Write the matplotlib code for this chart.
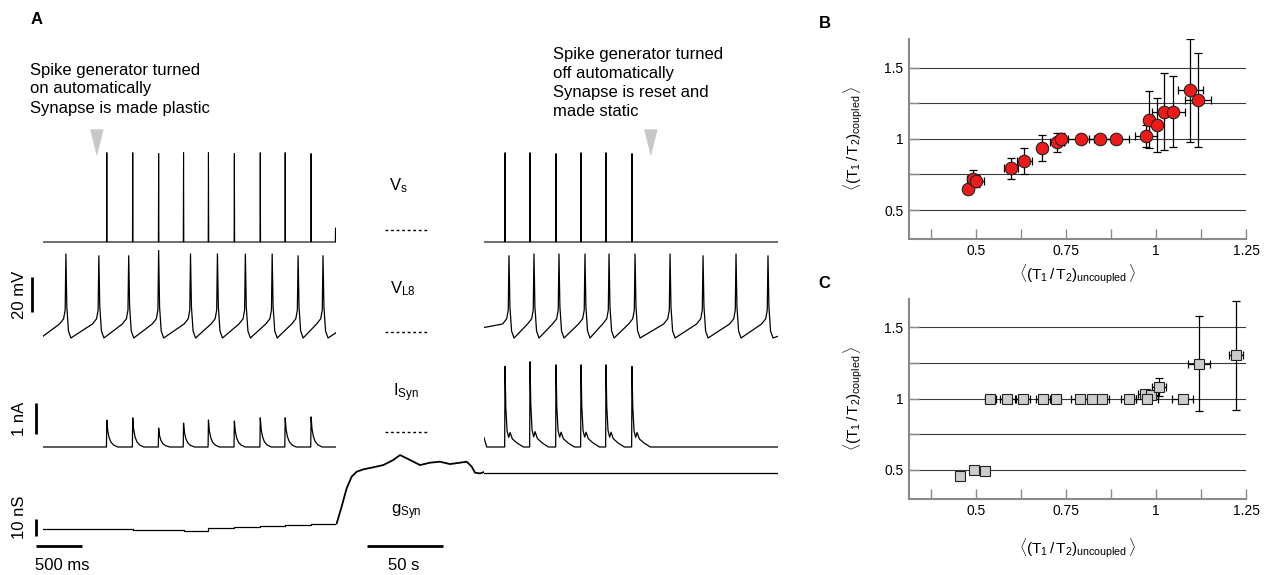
import numpy as np
import matplotlib
matplotlib.use("Agg")
import matplotlib.pyplot as plt
from matplotlib.lines import Line2D

plt.rcParams['font.family'] = ['Liberation Sans', 'DejaVu Sans']
plt.rcParams['mathtext.fontset'] = 'custom'
plt.rcParams['mathtext.rm'] = 'Liberation Sans'
plt.rcParams['mathtext.it'] = 'Liberation Sans'
plt.rcParams['mathtext.bf'] = 'Liberation Sans:bold'

# ---- panel A data (times in ms inside each 3.2 s window) ----
vs_spikes_on = [697, 980, 1263, 1535, 1807, 2090, 2373, 2645, 2928, 3195]
vs_peaks_on = [-14, -14, -14.5, -14, -14, -14.5, -14, -14, -14.5, -57]
vs_spikes_off = [229, 501, 784, 1056, 1328, 1611]
vs_peaks_off = [-14, -14, -14.5, -14, -14, -14.5]

vl8_spikes_on = [250, 610, 936, 1263, 1611, 1905, 2210, 2503, 2786, 3058]
vl8_peaks_on = [-14, -15, -15, -12, -14, -14, -14, -14, -15, -15]
vl8_spikes_off = [272, 544, 816, 1099, 1361, 1644, 2025, 2384, 2743, 3091]
vl8_peaks_off = [-15, -14, -14, -14, -14, -14, -14, -15, -14, -15]

isyn_peaks_on = [0.87, 0.94, 0.61, 0.77, 0.87, 0.84, 0.94, 0.94, 0.97]   # nA
isyn_peaks_off = [2.6, 2.75, 2.65, 2.65, 2.65, 2.6]

gsyn_steps_on = [8.0, 7.9, 7.6, 7.2, 7.0, 8.3, 9.0, 9.8, 10.4, 11.2]     # nS
gsyn_slow_t = [0, 0.4, 3.7, 7.0, 10.3, 13.6, 18.0, 24.6, 31.1, 37.7, 42.1, 46.5,
               50.9, 55.3, 61.8, 68.4, 75.0, 81.6, 86.0, 89.3, 91.5, 94.8, 97.4]  # s
gsyn_slow = [11.2, 11.2, 21.1, 31.9, 38.8, 41.7, 43.1, 44.3, 45.6, 48.6, 51.5, 49.6,
             47.6, 45.6, 47.0, 47.6, 46.2, 47.0, 47.6, 44.7, 41.1, 40.7, 41.5]
gsyn_off = 41.0

# ---- panel B / C data ----
b_x = [0.478, 0.492, 0.502, 0.598, 0.635, 0.683, 0.725, 0.737, 0.792, 0.845, 0.889,
       0.973, 0.980, 1.003, 1.023, 1.047, 1.096, 1.117]
b_y = [0.65, 0.72, 0.705, 0.793, 0.845, 0.935, 0.975, 1.0, 1.0, 1.0, 1.0,
       1.02, 1.135, 1.10, 1.19, 1.19, 1.34, 1.275]
b_xerr = [0.01, 0.015, 0.02, 0.02, 0.02, 0.01, 0.02, 0.01, 0.035, 0.03, 0.035,
          0.03, 0.01, 0.01, 0.035, 0.035, 0.035, 0.035]
b_yerr = [0.015, 0.06, 0.04, 0.075, 0.09, 0.09, 0.065, 0.04, 0.01, 0.01, 0.01,
          0.08, 0.2, 0.19, 0.27, 0.25, 0.36, 0.33]

c_x = [0.457, 0.496, 0.526, 0.541, 0.588, 0.631, 0.686, 0.723, 0.79, 0.823, 0.851,
       0.924, 0.971, 0.987, 1.008, 0.975, 1.074, 1.12, 1.223]
c_y = [0.458, 0.498, 0.495, 1.0, 1.0, 1.0, 1.0, 1.0, 1.0, 1.0, 1.0,
       1.0, 1.03, 1.023, 1.082, 1.0, 1.0, 1.246, 1.303]
c_xerr = [0.0, 0.01, 0.01, 0.015, 0.02, 0.02, 0.02, 0.015, 0.025, 0.015, 0.02,
          0.02, 0.02, 0.02, 0.02, 0.03, 0.03, 0.03, 0.02]
c_yerr = [0.0, 0.0, 0.0, 0.0, 0.0, 0.0, 0.0, 0.0, 0.0, 0.0, 0.0,
          0.0, 0.03, 0.02, 0.06, 0.0, 0.0, 0.33, 0.38]

W, H = 1266, 575
fig = plt.figure(figsize=(W / 100, H / 100), dpi=100)


def px_axes(x0, x1, ytop, ybot, off=True):
    ax = fig.add_axes([x0 / W, 1 - ybot / H, (x1 - x0) / W, (ybot - ytop) / H])
    if off:
        ax.set_axis_off()
    return ax


def scale_y(ax, ytop, ybot, ref_px, ref_val, ppu):
    ax.set_ylim(ref_val - (ybot - ref_px) / ppu, ref_val + (ref_px - ytop) / ppu)


def ftext(x, y, s, **kw):
    fig.text(x / W, 1 - y / H, s, **kw)


def spike_train(times, peaks, base, t_end, half=3):
    t, v = [0.0], [base]
    for ts, p in zip(times, peaks):
        t += [ts - half, ts, ts + half]
        v += [base, p, base]
    t.append(t_end)
    v.append(base)
    return t, v


PRE = [(-70, -54), (-25, -51), (-8, -46)]
POST = [(10, -44), (28, -58), (55, -62)]


def vl8_trace(times, peaks, start, t_end, end):
    t, v = [0.0], [start]
    for ts, p in zip(times, peaks):
        for dt, dv in PRE:
            t.append(ts + dt); v.append(dv)
        t.append(ts); v.append(p)
        for dt, dv in POST:
            t.append(ts + dt); v.append(dv)
    t.append(t_end)
    v.append(end)
    return t, v


KER_ON = [(-4, 0), (0, 1), (10, 0.6), (25, 0.35), (45, 0.18), (75, 0.07), (120, 0)]
KER_OFF = [(-4, 0), (0, 1), (8, 0.5), (22, 0.2), (40, 0.12), (55, 0.18), (80, 0.1),
           (130, 0.05), (200, 0)]


def kernel_train(times, amps, kernel, t_end, start=0.0):
    t, v = [0.0, 30.0], [start, 0.0]
    for ts, a in zip(times, amps):
        for dt, f in kernel:
            t.append(ts + dt); v.append(a * f)
    t.append(t_end)
    v.append(0.0)
    return t, v


LW = 0.9
T_WIN = 3200
LX0, LX1, RX0, RX1 = 43, 336, 484, 778

rows = {
    'vs': (125, 250, 242, -65, 1.75),
    'vl8': (248, 345, 338, -62, 1.75),
    'isyn': (350, 455, 447, 0, 31),
    'gsyn': (440, 560, 529, 8, 1.7),
}
axs = {}
for name, (yt, yb, rp, rv, ppu) in rows.items():
    for side, (x0, x1) in (('L', (LX0, LX1)), ('R', (RX0, RX1))):
        ax = px_axes(x0, x1, yt, yb)
        ax.set_xlim(0, T_WIN)
        scale_y(ax, yt, yb, rp, rv, ppu)
        axs[name + side] = ax

# Vs
t, v = spike_train(vs_spikes_on, vs_peaks_on, -65, T_WIN)
axs['vsL'].plot(t, v, color='black', lw=0.8)
t, v = spike_train(vs_spikes_off, vs_peaks_off, -65, T_WIN)
axs['vsR'].plot(t, v, color='black', lw=0.8)

tri = [(-0.25, 0.5), (0.25, 0.5), (0, -0.5)]
axs['vsL'].plot([579], [-7.9], marker=tri, ms=18, color='#c8c8c8', ls='none', clip_on=False)
axs['vsR'].plot([1802], [-7.9], marker=tri, ms=18, color='#c8c8c8', ls='none', clip_on=False)

# V_L8
t, v = vl8_trace(vl8_spikes_on, vl8_peaks_on, -61, T_WIN, -59)
axs['vl8L'].plot(t, v, color='black', lw=LW)
t, v = vl8_trace(vl8_spikes_off, vl8_peaks_off, -56, T_WIN, -61)
axs['vl8R'].plot(t, v, color='black', lw=LW)

# I_Syn
t, v = kernel_train(vs_spikes_on[:9], isyn_peaks_on, KER_ON, T_WIN)
axs['isynL'].plot(t, v, color='black', lw=LW)
t, v = kernel_train(vs_spikes_off, isyn_peaks_off, KER_OFF, T_WIN, start=0.3)
axs['isynR'].plot(t, v, color='black', lw=LW)

# g_Syn
axs['gsynL'].plot([0] + vs_spikes_on[:9] + [T_WIN], gsyn_steps_on + [gsyn_steps_on[-1]],
                  drawstyle='steps-post', color='black', lw=LW)
axs['gsynR'].plot([0, T_WIN], [gsyn_off, gsyn_off], color='black', lw=LW)
yt, yb, rp, rv, ppu = rows['gsyn']
axm = px_axes(LX1, RX0, yt, yb)
axm.set_xlim(0, 97.4)
scale_y(axm, yt, yb, rp, rv, ppu)
axm.plot(gsyn_slow_t, gsyn_slow, color='black', lw=1.3)

# scale bars
bar = dict(color='black', lw=2.0, clip_on=False, solid_capstyle='butt')
axs['vl8L'].plot([-120, -120], [-47, -27], **bar)
axs['isynL'].plot([-76, -76], [0.42, 1.42], **bar)
axs['gsynL'].plot([-76, -76], [3.9, 13.9], **bar)
axs['gsynL'].plot([-76, 424], [-2, -2], **bar)
axm.plot([20.4, 70.4], [-2, -2], **bar)

ftext(19, 295, '20 mV', rotation=90, ha='center', va='center', fontsize=12)
ftext(19, 419, '1 nA', rotation=90, ha='center', va='center', fontsize=12)
ftext(19, 517, '10 nS', rotation=90, ha='center', va='center', fontsize=12)
ftext(35, 565, '500 ms', ha='left', va='center', fontsize=12)
ftext(404, 565, '50 s', ha='center', va='center', fontsize=12)

# trace names and reference dashes
ftext(398, 186, r'$\mathrm{V_s}$', ha='center', va='center', fontsize=12)
ftext(403, 289, r'$\mathrm{V_{L8}}$', ha='center', va='center', fontsize=12)
ftext(406, 393, r'$\mathrm{I_{Syn}}$', ha='center', va='center', fontsize=12)
ftext(406, 512, r'$\mathrm{g_{Syn}}$', ha='center', va='center', fontsize=12)
for yy in (230, 332, 432):
    fig.add_artist(Line2D([385 / W, 428 / W], [1 - yy / H, 1 - yy / H], color='black',
                          lw=1.0, ls=(0, (2, 2))))

# annotations
left_lines = ['Spike generator turned', 'on automatically', 'Synapse is made plastic']
right_lines = ['Spike generator turned', 'off automatically', 'Synapse is reset and',
               'made static']
for i, s in enumerate(left_lines):
    ftext(30, 70 + 19 * i, s, ha='left', va='center', fontsize=12)
for i, s in enumerate(right_lines):
    ftext(553, 55 + 18.7 * i, s, ha='left', va='center', fontsize=12)

ftext(37, 19, 'A', ha='center', va='center', fontsize=12, fontweight='bold')
ftext(825, 24, 'B', ha='center', va='center', fontsize=12, fontweight='bold')
ftext(824, 283, 'C', ha='center', va='center', fontsize=12, fontweight='bold')

# ---- panels B and C ----
xlab = r'$\langle(\mathrm{T_1\,/\,T_2)_{uncoupled}}\,\rangle$'
ylab = r'$\langle(\mathrm{T_1\,/\,T_2)_{coupled}}\,\rangle$'


def ratio_axes(ytop, ybot, xs, ys, xe, ye, marker, face, ms, xpad):
    ax = px_axes(909, 1246, ytop, ybot, off=False)
    ax.set_xlim(0.315, 1.25)
    ax.set_ylim(0.3, 1.7)
    for s in ('top', 'right'):
        ax.spines[s].set_visible(False)
    for s in ('left', 'bottom'):
        ax.spines[s].set_color('#8a8a8a')
        ax.spines[s].set_linewidth(1.5)
    ax.set_xticks([0.375, 0.5, 0.625, 0.75, 0.875, 1.0, 1.125, 1.25])
    ax.set_xticklabels(['', '0.5', '', '0.75', '', '1', '', '1.25'])
    ax.set_yticks([0.5, 0.75, 1.0, 1.25, 1.5])
    ax.set_yticklabels(['0.5', '', '1', '', '1.5'])
    ax.tick_params(direction='in', length=7, width=1, color='#8a8a8a', labelsize=10, pad=4)
    ax.grid(axis='y', color='#3a3a3a', lw=0.8)
    ax.set_axisbelow(True)
    ax.errorbar(xs, ys, xerr=xe, yerr=ye, fmt='none', ecolor='black', elinewidth=0.9,
                capsize=3, capthick=0.9, zorder=3)
    ax.plot(xs, ys, ls='none', marker=marker, ms=ms, mfc=face, mec='#222222', mew=0.8,
            zorder=4)
    ax.set_xlabel(xlab, fontsize=11, labelpad=xpad)
    ax.set_ylabel(ylab, fontsize=11, labelpad=14)
    return ax


ratio_axes(39.2, 238.5, b_x, b_y, b_xerr, b_yerr, 'o', '#ee1a1a', 9, 3)
ratio_axes(298.8, 498.5, c_x, c_y, c_xerr, c_yerr, 's', '#cccccc', 7.5, 13)

fig.savefig('out.png', dpi=100)
